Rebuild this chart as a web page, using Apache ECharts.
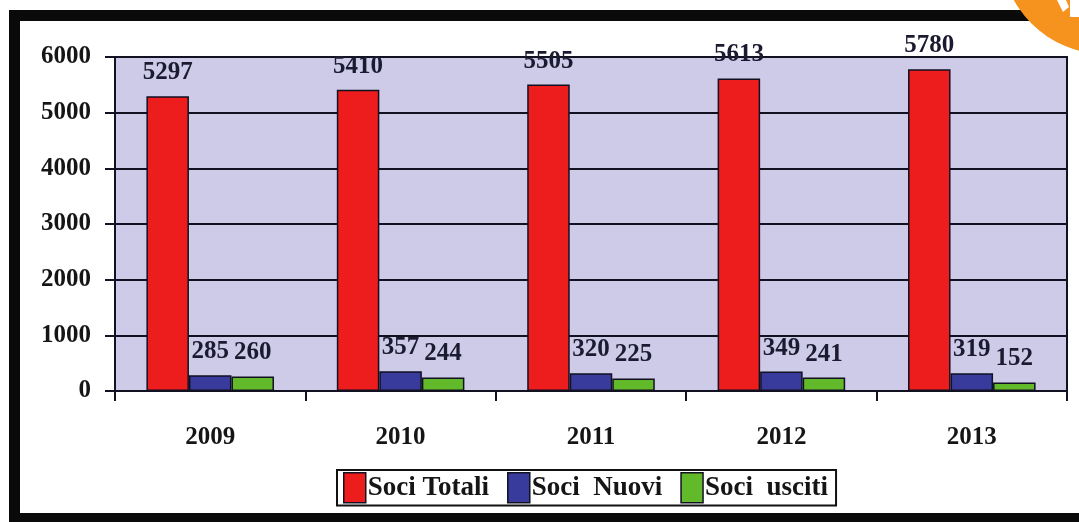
<!DOCTYPE html>
<html>
<head>
<meta charset="utf-8">
<script src="https://cdn.jsdelivr.net/npm/echarts@6/dist/echarts.min.js"></script>
<style>
  html, body { margin: 0; padding: 0; background: #ffffff; }
  #chart { width: 1079px; height: 522px; }
</style>
</head>
<body>
<div id="chart"></div>
<script>
// Membership figures per year
const years = ['2009', '2010', '2011', '2012', '2013'];
const sociTotali = [5297, 5410, 5505, 5613, 5780];
const sociNuovi = [285, 357, 320, 349, 319];
const sociUsciti = [260, 244, 225, 241, 152];
const seriesNames = ['Soci Totali', 'Soci  Nuovi', 'Soci  usciti'];
const yTicks = { min: 0, max: 6000, interval: 1000 };

const serif = '"Liberation Serif", "DejaVu Serif", serif';
const colors = ['#ee1d1d', '#393b9c', '#62b92a'];

const chart = echarts.init(document.getElementById('chart'), null, { renderer: 'canvas' });

function barSeries(name, data, color) {
  return {
    name: name,
    type: 'bar',
    data: data,
    barGap: '0%',
    barCategoryGap: '33%',
    itemStyle: { color: color, borderColor: '#111122', borderWidth: 1.5 },
    label: {
      show: true,
      position: 'top',
      distance: 11,
      fontFamily: serif,
      fontWeight: 'bold',
      fontSize: 25,
      color: '#1a1a30'
    }
  };
}

chart.setOption({
  animation: false,
  backgroundColor: '#ffffff',
  color: colors,
  grid: {
    left: 115, right: 12, top: 57, bottom: 131,
    show: true,
    backgroundColor: '#cdcbe7',
    borderColor: '#111122',
    borderWidth: 2
  },
  xAxis: {
    type: 'category',
    data: years,
    boundaryGap: true,
    axisLine: { lineStyle: { color: '#111122', width: 2 } },
    axisTick: { show: true, length: 10, lineStyle: { color: '#111122', width: 2 } },
    axisLabel: {
      margin: 34,
      fontFamily: serif,
      fontWeight: 'bold',
      fontSize: 25,
      color: '#151515'
    }
  },
  yAxis: {
    type: 'value',
    min: yTicks.min,
    max: yTicks.max,
    interval: yTicks.interval,
    axisLine: { show: true, lineStyle: { color: '#111122', width: 2 } },
    axisTick: { show: true, inside: false, length: 10, lineStyle: { color: '#111122', width: 2 } },
    splitLine: { show: true, lineStyle: { color: '#111122', width: 2 } },
    axisLabel: {
      margin: 24,
      fontFamily: serif,
      fontWeight: 'bold',
      fontSize: 25,
      color: '#151515',
      formatter: function (v) { return String(v); }
    }
  },
  legend: {
    data: seriesNames,
    left: 337,
    top: 470,
    orient: 'horizontal',
    itemWidth: 22,
    itemHeight: 30,
    itemGap: 18,
    padding: [2, 8, 2, 6],
    borderColor: '#111111',
    borderWidth: 2,
    backgroundColor: '#ffffff',
    icon: 'rect',
    itemStyle: { borderColor: '#111122', borderWidth: 1.5 },
    textStyle: {
      fontFamily: serif,
      fontWeight: 'bold',
      fontSize: 27,
      color: '#151515',
      padding: [0, 0, 0, -3]
    }
  },
  series: [
    barSeries(seriesNames[0], sociTotali, colors[0]),
    barSeries(seriesNames[1], sociNuovi, colors[1]),
    barSeries(seriesNames[2], sociUsciti, colors[2])
  ],
  graphic: [
    // black page frame (top, left, bottom)
    { type: 'rect', shape: { x: 9, y: 10, width: 1070, height: 11 }, style: { fill: '#0a0a0a' }, z: 100 },
    { type: 'rect', shape: { x: 9, y: 10, width: 11, height: 512 }, style: { fill: '#0a0a0a' }, z: 100 },
    { type: 'rect', shape: { x: 9, y: 513, width: 1070, height: 9 }, style: { fill: '#0a0a0a' }, z: 100 },
    // orange corner badge
    { type: 'circle', shape: { cx: 1105, cy: -50, r: 104 }, style: { fill: '#f5931e' }, z: 110 },
    { type: 'polygon', shape: { points: [[1057, 0], [1066, 0], [1069, 7], [1063, 12]] }, style: { fill: '#ffffff' }, z: 111 },
    { type: 'rect', shape: { x: 1070, y: 0, width: 9, height: 17 }, style: { fill: '#ffffff' }, z: 111 }
  ]
});
</script>
</body>
</html>
